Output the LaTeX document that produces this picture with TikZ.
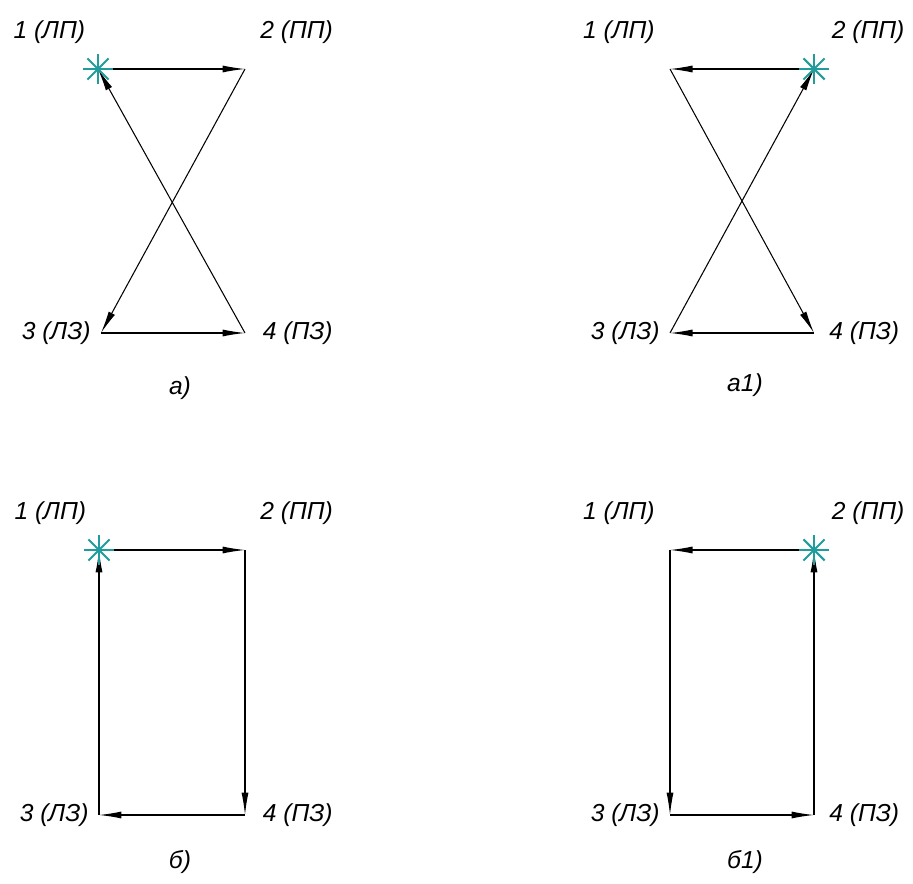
\documentclass[tikz,border=0pt]{standalone}
\usepackage{fontspec}
\setmainfont{Liberation Sans}
\usetikzlibrary{arrows.meta, positioning}
\definecolor{markcol}{RGB}{32,156,156}

\begin{document}
\begin{tikzpicture}[
    x=0.02cm, y=-0.02cm,
    lbl/.style={inner sep=0pt, font=\fontsize{14}{16}\selectfont\itshape},
    capt/.style={inner sep=0pt, font=\fontsize{14}{16}\selectfont\itshape},
    arrow/.style={-{Latex[length=4.5mm, width=1.4mm]}, line width=0.6pt},
    startmark/.style={markcol, line width=1.2pt}
]
    \useasboundingbox (0,0) rectangle (913,884);

    % scheme a)
    \coordinate (a1) at (98,69);
    \coordinate (a2) at (245,69);
    \coordinate (a3) at (101,333);
    \coordinate (a4) at (245,333);
    \node[lbl, above left=0.5cm and 0.25cm of a1] (la1) {1 (ЛП)};
    \node[lbl, above right=0.5cm and 0.3cm of a2] (la2) {2 (ПП)};
    \node[lbl, left=0.2cm of a3] (la3) {3 (ЛЗ)};
    \node[lbl, right=0.35cm of a4] (la4) {4 (ПЗ)};
    \node[capt] (capa) at (180,388) {а)};

    \draw[arrow] (a1) -- (a2);
    \draw[arrow] (a2) -- (a3);
    \draw[arrow] (a3) -- (a4);
    \draw[arrow] (a4) -- (a1);
    \foreach \ang in {0,45,90,135}
        \draw[startmark] (a1) ++(\ang:15) -- ++(\ang+180:30);

    % scheme a1)
    \coordinate (b1) at (670,69);
    \coordinate (b2) at (814,69);
    \coordinate (b3) at (670,333);
    \coordinate (b4) at (814,333);
    \node[lbl, above left=0.5cm and 0.3cm of b1] (lb1) {1 (ЛП)};
    \node[lbl, above right=0.5cm and 0.35cm of b2] (lb2) {2 (ПП)};
    \node[lbl, left=0.2cm of b3] (lb3) {3 (ЛЗ)};
    \node[lbl, right=0.3cm of b4] (lb4) {4 (ПЗ)};
    \node[capt] (capb) at (745,385) {а1)};

    \draw[arrow] (b2) -- (b1);
    \draw[arrow] (b1) -- (b4);
    \draw[arrow] (b4) -- (b3);
    \draw[arrow] (b3) -- (b2);
    \foreach \ang in {0,45,90,135}
        \draw[startmark] (b2) ++(\ang:15) -- ++(\ang+180:30);

    % scheme b)
    \coordinate (c1) at (99,550);
    \coordinate (c2) at (245,550);
    \coordinate (c3) at (99,815);
    \coordinate (c4) at (245,815);
    \node[lbl, above left=0.5cm and 0.25cm of c1] (lc1) {1 (ЛП)};
    \node[lbl, above right=0.5cm and 0.3cm of c2] (lc2) {2 (ПП)};
    \node[lbl, left=0.2cm of c3] (lc3) {3 (ЛЗ)};
    \node[lbl, right=0.35cm of c4] (lc4) {4 (ПЗ)};
    \node[capt] (capc) at (180,862) {б)};

    \draw[arrow] (c1) -- (c2);
    \draw[arrow] (c2) -- (c4);
    \draw[arrow] (c4) -- (c3);
    \draw[arrow] (c3) -- (c1);
    \foreach \ang in {0,45,90,135}
        \draw[startmark] (c1) ++(\ang:15) -- ++(\ang+180:30);

    % scheme b1)
    \coordinate (d1) at (670,550);
    \coordinate (d2) at (814,550);
    \coordinate (d3) at (670,815);
    \coordinate (d4) at (814,815);
    \node[lbl, above left=0.5cm and 0.3cm of d1] (ld1) {1 (ЛП)};
    \node[lbl, above right=0.5cm and 0.35cm of d2] (ld2) {2 (ПП)};
    \node[lbl, left=0.2cm of d3] (ld3) {3 (ЛЗ)};
    \node[lbl, right=0.3cm of d4] (ld4) {4 (ПЗ)};
    \node[capt] (capd) at (745,862) {б1)};

    \draw[arrow] (d2) -- (d1);
    \draw[arrow] (d1) -- (d3);
    \draw[arrow] (d3) -- (d4);
    \draw[arrow] (d4) -- (d2);
    \foreach \ang in {0,45,90,135}
        \draw[startmark] (d2) ++(\ang:15) -- ++(\ang+180:30);
\end{tikzpicture}
\end{document}
